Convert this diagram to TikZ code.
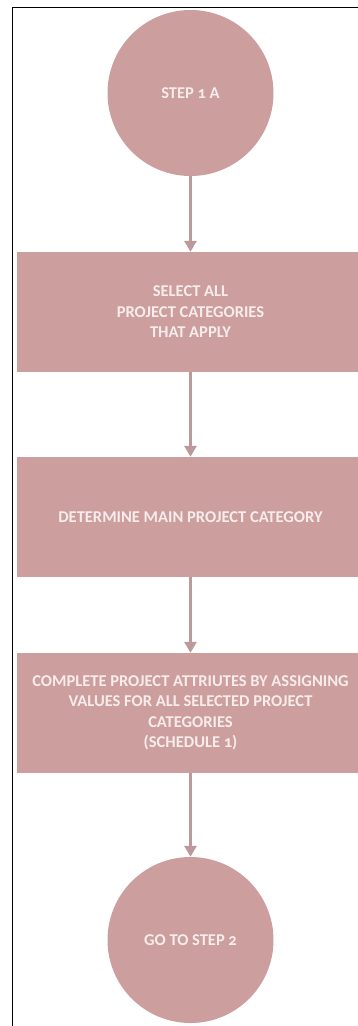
\documentclass[tikz,border=0pt]{standalone}
\usepackage{fontspec}
\setmainfont{Carlito}[Numbers=OldStyle]
\usetikzlibrary{arrows.meta}
\definecolor{boxfill}{HTML}{CD9E9E}
\definecolor{arrowcol}{HTML}{BC9A9C}
\definecolor{txt}{HTML}{F7ECEC}
\tikzset{
  every node/.style={font=\bfseries\fontsize{16.5}{20.5}\selectfont, text=txt, align=center},
  circ/.style={circle, fill=boxfill, minimum size=166pt, inner sep=0pt},
  stepbox/.style={rectangle, fill=boxfill, minimum width=341pt, minimum height=120pt, inner sep=0pt},
  conn/.style={draw=arrowcol, line width=3pt, -{Triangle[width=12pt,length=11pt]}}
}
\begin{document}
\begin{tikzpicture}[x=1pt,y=-1pt]
\useasboundingbox (0,0) rectangle (358,1026);
\fill[white] (0,0) rectangle (358,1026);
\draw[black, line width=1pt] (12.5,1026) -- (12.5,7) -- (358,7);
\node[circ] (s1) at (190.5,93) {STEP 1 A};
\node[stepbox] (b1) at (187.5,312) {\hspace*{6pt}SELECT ALL\\\hspace*{6pt}PROJECT CATEGORIES\\\hspace*{6pt}THAT APPLY};
\node[stepbox] (b2) at (187.5,517) {\hspace*{6pt}DETERMINE MAIN PROJECT CATEGORY};
\node[stepbox] (b3) at (187.5,713) {\hspace*{6pt}COMPLETE PROJECT ATTRIUTES BY ASSIGNING\\\hspace*{6pt}VALUES FOR ALL SELECTED PROJECT\\\hspace*{6pt}CATEGORIES\\\hspace*{6pt}(SCHEDULE 1)};
\node[circ] (s2) at (190.5,940) {GO TO STEP 2};
\draw[conn] (s1.south) -- (s1.south |- b1.north);
\draw[conn] (b1.south -| s1.south) -- (s1.south |- b2.north);
\draw[conn] (b2.south -| s1.south) -- (s1.south |- b3.north);
\draw[conn] (b3.south -| s1.south) -- (s2.north);
\end{tikzpicture}
\end{document}
